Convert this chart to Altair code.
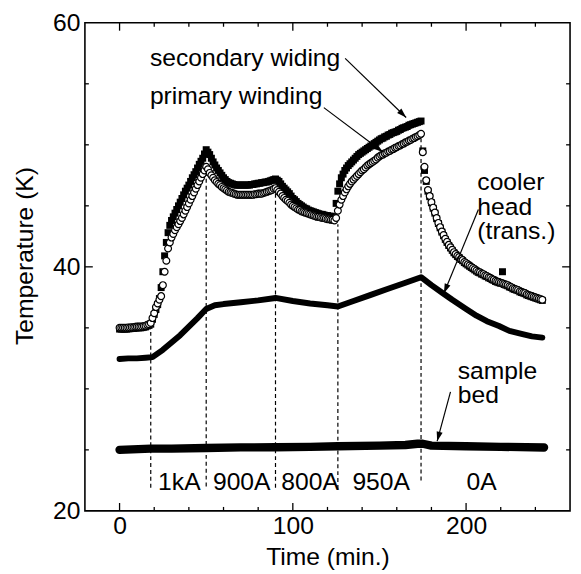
import math
import altair as alt
import pandas as pd

# ---------------- data ----------------
# sampling times of the two winding thermometers (min.)
wind_t = [
    0, 1, 2, 3, 4, 5, 6, 7, 8, 9,
    10, 11, 12, 13, 14, 15, 16, 17, 18, 19,
    20, 21, 22, 23, 24, 25, 26, 27, 28, 29,
    30, 31, 32, 33, 34, 35, 36, 37, 38, 39,
    40, 41, 42, 43, 44, 45, 46, 47, 48, 49,
    50, 51, 52, 53, 54, 55, 56, 57, 58, 59,
    60, 61, 62, 63, 64, 65, 66, 67, 68, 69,
    70, 71, 72, 73, 74, 75, 76, 77, 78, 79,
    80, 81, 82, 83, 84, 85, 86, 87, 88, 89,
    90, 91, 92, 93, 94, 95, 96, 97, 98, 99,
    100, 101, 102, 103, 104, 105, 106, 107, 108, 109,
    110, 111, 112, 113, 114, 115, 116, 117, 118, 119,
    120, 121, 122, 123, 124, 125, 126, 127, 128, 129,
    130, 131, 132, 133, 134, 135, 136, 137, 138, 139,
    140, 141, 142, 143, 144, 145, 146, 147, 148, 149,
    150, 151, 152, 153, 154, 155, 156, 157, 158, 159,
    160, 161, 162, 163, 164, 165, 166, 167, 168, 169,
    170, 171, 172, 173, 174, 175, 176, 177, 178, 179,
    180, 181, 182, 183, 184, 185, 186, 187, 188, 189,
    190, 191, 192, 193, 194, 195, 196, 197, 198, 199,
    200, 201, 202, 203, 204, 205, 206, 207, 208, 209,
    210, 211, 212, 213, 214, 215, 216, 217, 218, 219,
    220, 221, 222, 223, 224, 225, 226, 227, 228, 229,
    230, 231, 232, 233, 234, 235, 236, 237, 238, 239,
    240, 241, 242, 243, 244]

# primary winding (open circles), K
primary_T = [
    35.0, 35.0, 35.0, 35.0, 35.0, 35.02, 35.03, 35.05, 35.05, 35.08,
    35.1, 35.1, 35.1, 35.12, 35.15, 35.18, 35.25, 35.3, 35.4, 35.8,
    36.2, 36.7, 37.0, 37.3, 37.6, 38.5, 39.6, 40.5, 41.5, 42.0,
    42.4, 42.7, 43.0, 43.25, 43.5, 43.75, 44.0, 44.3, 44.6, 44.9,
    45.2, 45.5, 45.8, 46.1, 46.4, 46.7, 47.0, 47.3, 47.6, 47.9,
    48.2, 48.0, 47.7, 47.5, 47.3, 47.1, 46.95, 46.8, 46.7, 46.55,
    46.45, 46.35, 46.25, 46.15, 46.1, 46.05, 46.0, 45.95, 45.9, 45.9,
    45.9, 45.9, 45.9, 45.9, 45.9, 45.9, 45.9, 45.9, 45.95, 45.95,
    46.0, 46.0, 46.0, 46.05, 46.1, 46.15, 46.2, 46.25, 46.3, 46.4,
    46.45, 46.3, 46.15, 46.0, 45.8, 45.65, 45.5, 45.4, 45.25, 45.1,
    45.0, 44.9, 44.8, 44.7, 44.65, 44.55, 44.5, 44.45, 44.4, 44.35,
    44.3, 44.25, 44.2, 44.15, 44.1, 44.1, 44.05, 44.0, 44.0, 43.95,
    43.9, 43.9, 43.85, 43.85, 43.8, 44.0, 44.6, 45.1, 45.5, 45.8,
    46.1, 46.35, 46.6, 46.8, 47.0, 47.15, 47.3, 47.45, 47.6, 47.75,
    47.9, 48.0, 48.15, 48.3, 48.4, 48.5, 48.6, 48.7, 48.8, 48.95,
    49.05, 49.15, 49.2, 49.3, 49.35, 49.45, 49.5, 49.6, 49.65, 49.75,
    49.8, 49.9, 49.95, 50.05, 50.1, 50.2, 50.25, 50.35, 50.4, 50.5,
    50.55, 50.65, 50.7, 50.8, 50.9, 49.4, 48.2, 47.1, 46.3, 45.8,
    45.3, 44.85, 44.45, 44.0, 43.6, 43.25, 42.9, 42.6, 42.3, 42.05,
    41.8, 41.6, 41.4, 41.2, 41.05, 40.9, 40.8, 40.65, 40.55, 40.4,
    40.3, 40.2, 40.1, 40.0, 39.9, 39.8, 39.7, 39.6, 39.55, 39.45,
    39.4, 39.3, 39.25, 39.15, 39.1, 39.0, 38.95, 38.85, 38.8, 38.75,
    38.7, 38.65, 38.6, 38.55, 38.5, 38.4, 38.35, 38.25, 38.2, 38.15,
    38.1, 38.0, 37.95, 37.9, 37.85, 37.75, 37.7, 37.65, 37.6, 37.55,
    37.5, 37.45, 37.4, 37.35, 37.3]

# secondary winding (filled squares), K
secondary_T = [
    34.9, 34.9, 34.9, 34.9, 34.9, 34.92, 34.93, 34.95, 34.95, 34.98,
    35.0, 35.0, 35.0, 35.02, 35.05, 35.08, 35.15, 35.2, 35.3, 35.7,
    36.1, 36.5, 36.9, 37.4, 38.3, 39.6, 40.9, 42.0, 42.8, 43.4,
    43.8, 44.1, 44.4, 44.7, 45.0, 45.3, 45.6, 45.9, 46.2, 46.45,
    46.7, 47.0, 47.3, 47.55, 47.8, 48.1, 48.4, 48.65, 48.9, 49.25,
    49.6, 49.4, 49.2, 48.9, 48.6, 48.35, 48.1, 47.9, 47.7, 47.5,
    47.3, 47.15, 47.0, 46.9, 46.85, 46.8, 46.75, 46.7, 46.7, 46.7,
    46.7, 46.7, 46.7, 46.7, 46.7, 46.7, 46.75, 46.75, 46.8, 46.8,
    46.85, 46.85, 46.9, 46.9, 46.95, 46.95, 47.0, 47.05, 47.1, 47.15,
    47.2, 47.1, 47.0, 46.8, 46.6, 46.45, 46.3, 46.15, 46.0, 45.8,
    45.6, 45.5, 45.35, 45.2, 45.1, 45.0, 44.9, 44.8, 44.75, 44.65,
    44.6, 44.55, 44.5, 44.45, 44.4, 44.35, 44.3, 44.3, 44.25, 44.2,
    44.2, 44.15, 44.15, 44.1, 44.1, 45.2, 46.2, 46.8, 47.3, 47.6,
    47.9, 48.1, 48.3, 48.45, 48.6, 48.75, 48.9, 49.05, 49.2, 49.3,
    49.4, 49.5, 49.6, 49.7, 49.8, 49.9, 50.0, 50.1, 50.2, 50.3,
    50.4, 50.5, 50.55, 50.65, 50.7, 50.8, 50.85, 50.95, 51.0, 51.05,
    51.1, 51.2, 51.25, 51.35, 51.4, 51.45, 51.5, 51.6, 51.65, 51.7,
    51.75, 51.8, 51.85, 51.9, 51.95, 49.5, 47.9, 47.0, 46.2, 45.75,
    45.25, 44.8, 44.4, 43.95, 43.55, 43.2, 42.85, 42.55, 42.25, 42.0,
    41.75, 41.55, 41.35, 41.15, 41.0, 40.85, 40.75, 40.6, 40.5, 40.35,
    40.25, 40.15, 40.05, 39.95, 39.85, 39.75, 39.65, 39.55, 39.5, 39.4,
    39.35, 39.25, 39.2, 39.1, 39.05, 38.95, 38.9, 38.8, 38.75, 38.7,
    38.65, 39.6, 38.55, 38.5, 38.45, 38.35, 38.3, 38.2, 38.15, 38.1,
    38.05, 37.95, 37.9, 37.85, 37.8, 37.7, 37.65, 37.6, 37.55, 37.5,
    37.45, 37.4, 37.35, 37.3, 37.25]

cooler_t = [0, 5, 10, 15, 19, 25, 30, 35, 40, 45, 50, 55, 60, 70, 80, 90, 100, 110, 120, 126,
            135, 145, 155, 165, 174, 180, 186, 192, 200, 206, 212, 219, 225, 232, 238, 244]
cooler_T = [32.45, 32.5, 32.5, 32.55, 32.6, 33.2, 33.8, 34.4, 35.1, 35.8, 36.55, 36.85, 36.95,
            37.1, 37.25, 37.45, 37.2, 37.0, 36.85, 36.75, 37.2, 37.7, 38.2, 38.7, 39.15, 38.5,
            37.9, 37.3, 36.55, 36.0, 35.55, 35.15, 34.75, 34.5, 34.3, 34.2]

bed_t = [0, 18, 30, 50, 70, 90, 110, 126, 150, 165, 172, 175, 180, 200, 220, 245]
bed_T = [25.0, 25.1, 25.1, 25.15, 25.2, 25.22, 25.25, 25.3, 25.35, 25.4, 25.5, 25.5, 25.35,
         25.3, 25.25, 25.2]

# current-change markers (dashed lines)
switch_t = [18, 50, 90, 126, 174]
switch_lo = [21.9, 22.0, 21.9, 21.8, 22.5]
switch_hi = [34.8, 47.8, 46.2, 43.5, 50.5]

# current labels
cur_text = ["1kA", "900A", "800A", "950A", "0A"]
cur_t = [34.5, 70.5, 110, 151, 209]
cur_T = [21.7, 21.7, 21.7, 21.7, 21.7]

# annotation texts (multi-line labels use "\n")
ann_text = ["secondary widing", "primary winding", "cooler\nhead\n(trans.)", "sample\nbed"]
ann_t = [17.5, 17.5, 206.5, 195.2]
ann_T = [56.42, 53.32, 46.26, 30.83]

# arrows (start -> tip)
arr_t1 = [130.2, 117.9, 207.1, 191.0]
arr_T1 = [57.09, 53.05, 44.70, 29.75]
arr_t2 = [165.4, 152.0, 187.2, 183.3]
arr_T2 = [52.24, 49.41, 37.83, 25.71]

# axis ticks
x_labels = [0, 100, 200]
x_major = [0, 100, 200]
x_minor = [20, 40, 60, 80, 120, 140, 160, 180, 220, 240]
y_labels = [20, 40, 60]
y_major = [40]
y_minor = [25, 30, 35, 45, 50, 55]

# ---------------- chart ----------------
W, H = 492, 495
XDOM = [-20, 260]
YDOM = [20, 60]
FONT = "Liberation Sans"
FS = 25
xs = alt.Scale(domain=XDOM, nice=False, zero=False)
ys = alt.Scale(domain=YDOM, nice=False, zero=False)

AX_X = alt.Axis(
    values=x_labels, ticks=False, tickSize=0, domain=False, grid=False,
    labelFont=FONT, labelFontSize=FS, labelColor="black", labelPadding=23,
    labelBaseline="alphabetic", labelFlush=False,
    title="Time (min.)", titleFont=FONT, titleFontSize=FS, titleFontWeight="normal",
    titleColor="black", titleBaseline="alphabetic", titleX=W / 2, titleY=54,
    titleAlign="center")
AX_Y = alt.Axis(
    values=y_labels, ticks=False, tickSize=0, domain=False, grid=False,
    labelFont=FONT, labelFontSize=FS, labelColor="black", labelPadding=5,
    labelFlush=False,
    title="Temperature (K)", titleFont=FONT, titleFontSize=FS, titleFontWeight="normal",
    titleColor="black", titleAngle=270, titleBaseline="alphabetic", titleAlign="center",
    titleX=-53, titleY=236)


def X(f):
    return alt.X(f"{f}:Q", scale=xs, axis=AX_X)


def Y(f):
    return alt.Y(f"{f}:Q", scale=ys, axis=AX_Y)


wind = pd.DataFrame({"t": wind_t, "p": primary_T, "s": secondary_T})
cool = pd.DataFrame({"t": cooler_t, "T": cooler_T})
bed = pd.DataFrame({"t": bed_t, "T": bed_T})
sw = pd.DataFrame({"t": switch_t, "lo": switch_lo, "hi": switch_hi})
cur = pd.DataFrame({"txt": cur_text, "t": cur_t, "T": cur_T})
ann = pd.DataFrame({"txt": ann_text, "t": ann_t, "T": ann_T})

sx = W / (XDOM[1] - XDOM[0])
sy = H / (YDOM[1] - YDOM[0])
angles = []
for a, b, c, d in zip(arr_t1, arr_T1, arr_t2, arr_T2):
    dx = (c - a) * sx
    dy = -(d - b) * sy
    angles.append(math.degrees(math.atan2(dx, -dy)) % 360)
arr = pd.DataFrame({"t1": arr_t1, "T1": arr_T1, "t2": arr_t2, "T2": arr_T2, "ang": angles})

squares = alt.Chart(wind).mark_square(color="black", size=50, opacity=1).encode(
    x=X("t"), y=Y("s"))

circles = alt.Chart(wind).mark_circle(
    fill="white", stroke="black", strokeWidth=1.2, size=48, opacity=1
).encode(x=X("t"), y=Y("p"))

cool_line = alt.Chart(cool).mark_line(
    color="black", strokeWidth=6, strokeCap="round", strokeJoin="round"
).encode(x=X("t"), y=Y("T"))

bed_line = alt.Chart(bed).mark_line(
    color="black", strokeWidth=8.5, strokeCap="round", strokeJoin="round"
).encode(x=X("t"), y=Y("T"))

dashes = alt.Chart(sw).mark_rule(
    color="black", strokeWidth=1.2, strokeDash=[4, 3]
).encode(x=X("t"), y=Y("lo"), y2="hi:Q")

cur_labels = alt.Chart(cur).mark_text(
    font=FONT, fontSize=FS, color="black", align="center", baseline="alphabetic"
).encode(x=X("t"), y=Y("T"), text="txt:N")

ann_labels = alt.Chart(ann).mark_text(
    font=FONT, fontSize=FS, color="black", align="left", baseline="alphabetic",
    lineBreak="\n", lineHeight=24.5
).encode(x=X("t"), y=Y("T"), text="txt:N")

arr_lines = alt.Chart(arr).mark_rule(color="black", strokeWidth=1.2).encode(
    x=X("t1"), y=Y("T1"), x2="t2:Q", y2="T2:Q")

arr_heads = alt.Chart(arr).mark_point(
    shape="M0,0L-0.32,1L0.32,1Z", filled=True, color="black", size=380, opacity=1
).encode(x=X("t2"), y=Y("T2"), angle=alt.Angle("ang:Q", scale=None))


def xticks(vals, length):
    df = pd.DataFrame({"v": vals})
    bot = alt.Chart(df).mark_rule(color="black", strokeWidth=1.3).encode(
        x=X("v"), y=alt.value(H), y2=alt.value(H - length))
    top = alt.Chart(df).mark_rule(color="black", strokeWidth=1.3).encode(
        x=X("v"), y=alt.value(0), y2=alt.value(length))
    return [bot, top]


def yticks(vals, length):
    df = pd.DataFrame({"v": vals})
    left = alt.Chart(df).mark_rule(color="black", strokeWidth=1.3).encode(
        y=Y("v"), x=alt.value(0), x2=alt.value(length))
    right = alt.Chart(df).mark_rule(color="black", strokeWidth=1.3).encode(
        y=Y("v"), x=alt.value(W), x2=alt.value(W - length))
    return [left, right]


tick_layers = xticks(x_major, 8) + xticks(x_minor, 4) + yticks(y_major, 8) + yticks(y_minor, 4)

chart = alt.layer(
    squares, dashes, bed_line, cool_line, circles, cur_labels, ann_labels,
    arr_lines, arr_heads, *tick_layers
).properties(
    width=W, height=H,
    autosize=alt.AutoSizeParams(type="none"),
    padding={"left": 78, "top": 11, "right": 3, "bottom": 60},
    background="white",
).configure_view(stroke="black", strokeWidth=1.6)

chart.save("out.html", embed_options={"renderer": "svg", "actions": False})
